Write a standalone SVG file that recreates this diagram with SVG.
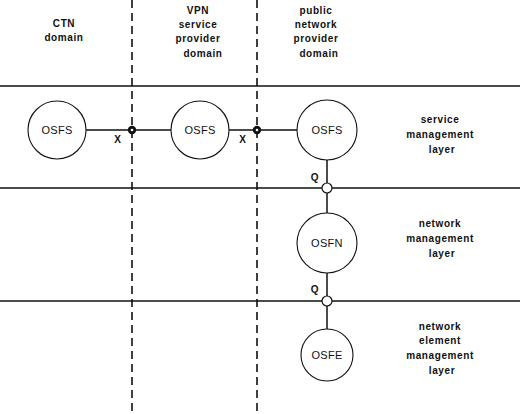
<svg xmlns="http://www.w3.org/2000/svg" width="520" height="414" viewBox="0 0 520 414">
<style>
.t{font-family:"Liberation Sans",Arial,sans-serif;font-size:10px;font-weight:bold;letter-spacing:0.6px;fill:#111;text-anchor:middle}
.n{font-family:"Liberation Sans",Arial,sans-serif;font-size:11px;letter-spacing:0.3px;fill:#111;text-anchor:middle}
.node{fill:#fff;stroke:#111;stroke-width:1.1}
.ln{stroke:#111;stroke-width:1.6;fill:none}
.dash{stroke:#111;stroke-width:1.6;stroke-dasharray:8,5;fill:none}
.conn{stroke:#111;stroke-width:1.5;fill:none}
</style>
<rect width="520" height="414" fill="#fff"/>
<g id="grid">
<line class="ln" x1="0" y1="86" x2="520" y2="86"/>
<line class="ln" x1="0" y1="188" x2="520" y2="188"/>
<line class="ln" x1="0" y1="301" x2="520" y2="301"/>
<line class="dash" x1="132" y1="0" x2="132" y2="414"/>
<line class="dash" x1="257" y1="0" x2="257" y2="414"/>
</g>
<g id="headers">
<text class="t" x="64" y="27">CTN</text>
<text class="t" x="64" y="41">domain</text>
<text class="t" x="198" y="14">VPN</text>
<text class="t" x="198" y="28">service</text>
<text class="t" x="198" y="42">provider</text>
<text class="t" x="203" y="57">domain</text>
<text class="t" x="316" y="14">public</text>
<text class="t" x="316" y="28">network</text>
<text class="t" x="316" y="42">provider</text>
<text class="t" x="319" y="57">domain</text>
</g>
<g id="layers">
<text class="t" x="440" y="123">service</text>
<text class="t" x="440" y="138">management</text>
<text class="t" x="442" y="153">layer</text>
<text class="t" x="440" y="227">network</text>
<text class="t" x="440" y="242">management</text>
<text class="t" x="442" y="257">layer</text>
<text class="t" x="440" y="330">network</text>
<text class="t" x="440" y="344">element</text>
<text class="t" x="440" y="359">management</text>
<text class="t" x="442" y="374">layer</text>
</g>
<g id="connectors">
<line class="conn" x1="86" y1="130" x2="171" y2="130"/>
<line class="conn" x1="229" y1="130" x2="297" y2="130"/>
<line class="conn" x1="327" y1="160" x2="327" y2="213"/>
<line class="conn" x1="327" y1="273" x2="327" y2="329"/>
<circle cx="132" cy="130" r="4.2" fill="#111"/>
<circle cx="132" cy="130" r="1.3" fill="#fff"/>
<circle cx="257" cy="130" r="4.2" fill="#111"/>
<circle cx="257" cy="130" r="1.3" fill="#fff"/>
<circle cx="327" cy="188" r="5" fill="#fff" stroke="#111" stroke-width="1.2"/>
<circle cx="327" cy="301" r="5" fill="#fff" stroke="#111" stroke-width="1.2"/>
<text class="t" x="118" y="143">X</text>
<text class="t" x="243" y="143">X</text>
<text class="t" x="315" y="181">Q</text>
<text class="t" x="315" y="293">Q</text>
</g>
<g id="osfs1">
<circle class="node" cx="57" cy="130" r="29"/>
<text class="n" x="57" y="134">OSFS</text>
</g>
<g id="osfs2">
<circle class="node" cx="200" cy="130" r="29"/>
<text class="n" x="200" y="134">OSFS</text>
</g>
<g id="osfs3">
<circle class="node" cx="327" cy="130" r="30"/>
<text class="n" x="327" y="134">OSFS</text>
</g>
<g id="osfn">
<circle class="node" cx="327" cy="243" r="30"/>
<text class="n" x="327" y="247">OSFN</text>
</g>
<g id="osfe">
<circle class="node" cx="327" cy="355" r="26"/>
<text class="n" x="327" y="359">OSFE</text>
</g>
</svg>
